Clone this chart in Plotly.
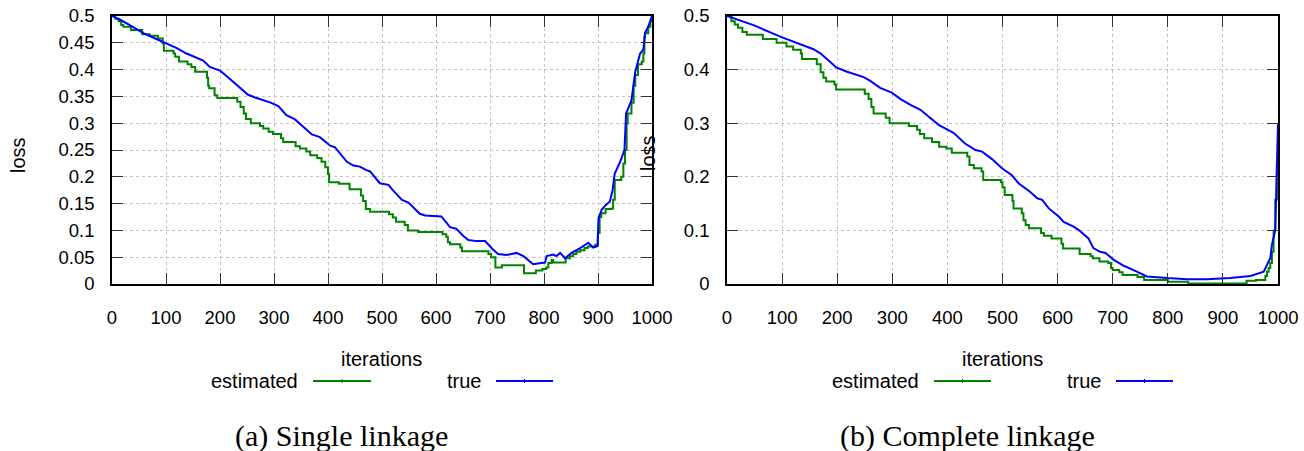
import plotly.graph_objects as go

W, H = 1304, 451

# ---- Single linkage: estimated loss (staircase) ----
single_est_iter = [0, 6, 12, 17, 21, 35, 56, 70, 85, 94, 96, 114, 117, 124, 140, 147, 154, 176, 178, 180,
                   190, 195, 232, 238, 244, 248, 257, 274, 280, 290, 298, 313, 317, 340, 348, 360, 367, 380,
                   388, 395, 400, 402, 420, 440, 461, 465, 470, 478, 513, 520, 526, 542, 548, 567, 612, 619,
                   622, 626, 645, 648, 697, 702, 710, 722, 763, 785, 797, 804, 808, 814, 817, 840, 848, 854,
                   860, 867, 875, 881, 895, 900, 903, 906, 914, 925, 928, 931, 943, 947, 950, 953, 955, 962,
                   966, 969, 974, 981, 984, 986, 987, 993, 997, 1000]
single_est_loss = [0.5, 0.495, 0.49, 0.483, 0.48, 0.474, 0.466, 0.463, 0.458, 0.449, 0.435, 0.43, 0.424, 0.415,
                   0.41, 0.405, 0.396, 0.385, 0.37, 0.365, 0.352, 0.347, 0.34, 0.33, 0.318, 0.308, 0.3, 0.295,
                   0.29, 0.284, 0.28, 0.272, 0.265, 0.257, 0.253, 0.247, 0.24, 0.235, 0.228, 0.218, 0.205,
                   0.19, 0.187, 0.177, 0.165, 0.155, 0.14, 0.135, 0.13, 0.124, 0.116, 0.11, 0.1, 0.097, 0.093,
                   0.088, 0.078, 0.074, 0.068, 0.061, 0.056, 0.05, 0.031, 0.035, 0.02, 0.025, 0.028, 0.031,
                   0.039, 0.045, 0.04, 0.048, 0.052, 0.056, 0.06, 0.063, 0.067, 0.07, 0.073, 0.095, 0.125,
                   0.132, 0.14, 0.141, 0.157, 0.194, 0.2, 0.225, 0.25, 0.3, 0.318, 0.338, 0.37, 0.39, 0.41,
                   0.415, 0.43, 0.46, 0.468, 0.48, 0.49, 0.5]

# ---- Single linkage: true loss ----
single_true_iter = [0, 15, 33, 45, 58, 80, 100, 120, 138, 155, 169, 181, 200, 212, 225, 240, 252, 265, 280,
                    295, 308, 323, 339, 355, 370, 385, 404, 413, 425, 435, 447, 459, 470, 478, 496, 512, 520,
                    537, 549, 570, 580, 592, 610, 626, 638, 650, 660, 675, 691, 705, 715, 731, 749, 762, 780,
                    795, 802, 805, 817, 823, 830, 839, 851, 867, 882, 891, 899, 901, 907, 915, 922, 927, 931,
                    941, 949, 952, 962, 969, 974, 978, 984, 987, 993, 1000]
single_true_loss = [0.5, 0.493, 0.483, 0.475, 0.468, 0.458, 0.449, 0.44, 0.43, 0.423, 0.417, 0.405, 0.398,
                    0.388, 0.377, 0.364, 0.353, 0.348, 0.343, 0.338, 0.332, 0.315, 0.307, 0.293, 0.279, 0.274,
                    0.258, 0.255, 0.24, 0.228, 0.221, 0.219, 0.213, 0.21, 0.188, 0.185, 0.175, 0.157, 0.152,
                    0.131, 0.128, 0.127, 0.126, 0.106, 0.103, 0.09, 0.082, 0.08, 0.08, 0.065, 0.056, 0.054,
                    0.058, 0.052, 0.037, 0.039, 0.04, 0.052, 0.055, 0.052, 0.058, 0.048, 0.058, 0.067, 0.077,
                    0.068, 0.071, 0.123, 0.139, 0.148, 0.154, 0.175, 0.206, 0.228, 0.25, 0.318, 0.343, 0.396,
                    0.415, 0.43, 0.437, 0.468, 0.48, 0.5]

# ---- Complete linkage: estimated loss (staircase) ----
complete_est_iter = [0, 8, 14, 20, 28, 36, 65, 90, 108, 120, 134, 136, 163, 170, 175, 180, 195, 198, 250, 257,
                     262, 266, 288, 295, 330, 345, 350, 358, 372, 385, 398, 408, 436, 440, 448, 462, 465, 497,
                     500, 504, 518, 520, 535, 538, 542, 548, 570, 575, 589, 607, 610, 640, 660, 664, 676, 692,
                     697, 700, 712, 718, 745, 757, 800, 837, 943, 960, 977, 980, 983, 986, 989, 992, 995, 998,
                     1000]
complete_est_loss = [0.5, 0.49, 0.484, 0.478, 0.47, 0.465, 0.457, 0.45, 0.443, 0.437, 0.43, 0.42, 0.41, 0.395,
                     0.385, 0.378, 0.372, 0.363, 0.355, 0.345, 0.33, 0.318, 0.31, 0.3, 0.295, 0.288, 0.28,
                     0.272, 0.265, 0.256, 0.253, 0.245, 0.238, 0.222, 0.216, 0.21, 0.194, 0.19, 0.18, 0.166,
                     0.155, 0.141, 0.132, 0.119, 0.11, 0.104, 0.095, 0.09, 0.085, 0.075, 0.066, 0.056, 0.052,
                     0.048, 0.042, 0.039, 0.03, 0.026, 0.022, 0.017, 0.013, 0.0075, 0.004, 0.001, 0.006, 0.0075,
                     0.015, 0.023, 0.03, 0.039, 0.06, 0.1, 0.157, 0.22, 0.29]

# ---- Complete linkage: true loss ----
complete_true_iter = [0, 48, 100, 157, 170, 181, 190, 198, 218, 248, 260, 278, 299, 315, 333, 351, 368, 384,
                      411, 432, 451, 463, 481, 499, 517, 529, 550, 563, 572, 584, 602, 611, 629, 638, 656, 665,
                      677, 687, 702, 720, 738, 762, 799, 835, 871, 913, 950, 974, 986, 989, 995, 997, 1000]
complete_true_loss = [0.5, 0.483, 0.46, 0.438, 0.43, 0.421, 0.412, 0.404, 0.396, 0.386, 0.379, 0.366, 0.357,
                      0.345, 0.334, 0.325, 0.311, 0.297, 0.282, 0.262, 0.25, 0.247, 0.233, 0.216, 0.203, 0.188,
                      0.172, 0.16, 0.157, 0.141, 0.126, 0.116, 0.107, 0.101, 0.085, 0.067, 0.06, 0.058, 0.045,
                      0.034, 0.026, 0.014, 0.011, 0.009, 0.009, 0.011, 0.015, 0.023, 0.048, 0.073, 0.101, 0.2,
                      0.3]

x_ticks = [0, 100, 200, 300, 400, 500, 600, 700, 800, 900, 1000]
series_names = ["estimated", "true"]
captions = ["(a) Single linkage", "(b) Complete linkage"]

GREEN = "#008400"
BLUE = "#0000ff"
SANS = "Liberation Sans"


def px(x):
    return x / W


def py(y):
    return 1 - y / H


fig = go.Figure()

fig.add_trace(go.Scatter(x=single_est_iter, y=single_est_loss, mode="lines", line_shape="hv",
                         line=dict(color=GREEN, width=2), name=series_names[0],
                         xaxis="x", yaxis="y", showlegend=False))
fig.add_trace(go.Scatter(x=single_true_iter, y=single_true_loss, mode="lines",
                         line=dict(color=BLUE, width=2), name=series_names[1],
                         xaxis="x", yaxis="y", showlegend=False))
fig.add_trace(go.Scatter(x=complete_est_iter, y=complete_est_loss, mode="lines", line_shape="hv",
                         line=dict(color=GREEN, width=2), name=series_names[0],
                         xaxis="x2", yaxis="y2", showlegend=False))
fig.add_trace(go.Scatter(x=complete_true_iter, y=complete_true_loss, mode="lines",
                         line=dict(color=BLUE, width=2), name=series_names[1],
                         xaxis="x2", yaxis="y2", showlegend=False))

axis_common = dict(
    showline=True, linecolor="black", linewidth=1.6, mirror="ticks",
    ticks="inside", ticklen=11, tickwidth=1.2, tickcolor="#333333",
    showgrid=True, gridcolor="#c4c4c4", griddash="dot", gridwidth=1,
    zeroline=False, automargin=False,
    tickfont=dict(family=SANS, size=18.5, color="black"),
)

y_dom = [py(284), py(16)]
fig.update_layout(
    width=W, height=H,
    margin=dict(l=0, r=0, t=0, b=0, autoexpand=False),
    paper_bgcolor="white", plot_bgcolor="white",
    font=dict(family=SANS, size=18, color="black"),
    showlegend=False,
    xaxis=dict(domain=[px(112), px(652)], range=[0, 1000], tickvals=x_ticks,
               anchor="y", ticklabelstandoff=16, **axis_common),
    yaxis=dict(domain=y_dom, range=[0, 0.5], dtick=0.05, tick0=0,
               anchor="x", ticklabelstandoff=12, **axis_common),
    xaxis2=dict(domain=[px(727), px(1278)], range=[0, 1000], tickvals=x_ticks,
                anchor="y2", ticklabelstandoff=16, **axis_common),
    yaxis2=dict(domain=y_dom, range=[0, 0.5], dtick=0.1, tick0=0,
                anchor="x2", ticklabelstandoff=12, **axis_common),
)

annotations = []
shapes = []


def label(x, y, text, size=20, family=SANS, xanchor="center", angle=0):
    annotations.append(dict(x=px(x), y=py(y), xref="paper", yref="paper", text=text,
                            xanchor=xanchor, yanchor="middle", textangle=angle, showarrow=False,
                            font=dict(family=family, size=size, color="black")))


# axis titles
for cx, cy in [(18, 155), (648, 153)]:
    label(cx, cy, "loss", angle=-90)
for cx in [382, 1002]:
    label(cx, 359, "iterations")

# legend entries: label followed by a sample line
legend_rows = [
    # (label right edge, line start, line end, colour, label)
    (300, 313, 371, GREEN, series_names[0]),
    (483, 496, 553, BLUE, series_names[1]),
    (921, 934, 991, GREEN, series_names[0]),
    (1103, 1116, 1173, BLUE, series_names[1]),
]
LEG_Y = 381
for right, x0, x1, col, text in legend_rows:
    label(right, LEG_Y, text, xanchor="right")
    shapes.append(dict(type="line", xref="paper", yref="paper", x0=px(x0), x1=px(x1),
                       y0=py(LEG_Y), y1=py(LEG_Y), line=dict(color=col, width=2)))
    mid = (x0 + x1) / 2
    shapes.append(dict(type="line", xref="paper", yref="paper", x0=px(mid), x1=px(mid),
                       y0=py(LEG_Y - 2), y1=py(LEG_Y + 2), line=dict(color=col, width=1)))

# sub-figure captions
label(341, 436, captions[0], size=30, family="Liberation Serif")
label(967, 436, captions[1], size=30, family="Liberation Serif")

fig.update_layout(annotations=annotations, shapes=shapes)

fig.write_html("out.html")
